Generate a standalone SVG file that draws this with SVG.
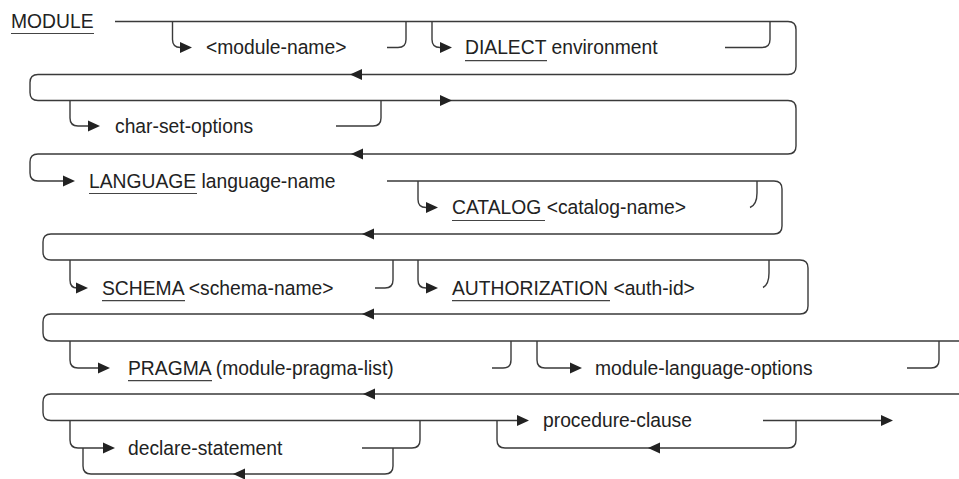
<svg xmlns="http://www.w3.org/2000/svg" xmlns:xlink="http://www.w3.org/1999/xlink" width="959" height="479" viewBox="0 0 959 479">
<style>
.t{font-family:"Liberation Sans",Arial,Helvetica,sans-serif;font-size:19.3px;fill:#222}
.c path{fill:none;stroke:#3a3a3a;stroke-width:1.4}
.u{stroke:#444;stroke-width:1.2}
.a{fill:#222}
</style>
<defs>
<path id="aR" d="M0,0 L-12,-5.5 L-12,5.5 Z"/>
<path id="aL" d="M0,0 L12,-5.5 L12,5.5 Z"/>
</defs>
<rect width="959" height="479" fill="#fff"/>
<g id="connectors" class="c">
<path d="M115,21.5 H788 Q796,21.5 796,29.5 V66.5 Q796,74.5 788,74.5 H38 Q30,74.5 30,82.5 V92.5 Q30,100.5 38,100.5 H788 Q796,100.5 796,108.5 V146 Q796,154 788,154 H38 Q30,154 30,162 V173 Q30,181 38,181 H64"/>
<path d="M172.5,21.5 V39.5 Q172.5,47.5 180.5,47.5"/>
<path d="M387,47.5 H398 Q406,47.5 406,39.5 V21.5"/>
<path d="M432,21.5 V39.5 Q432,47.5 440,47.5"/>
<path d="M725,47.5 H762 Q770,47.5 770,39.5 V21.5"/>
<path d="M70,100.5 V118 Q70,126 78,126 H89"/>
<path d="M336,126 H373 Q381,126 381,118 V100.5"/>
<path d="M387,181 H774 Q782,181 782,189 V226 Q782,234 774,234 H51 Q43,234 43,242 V252 Q43,260 51,260 H800 Q808,260 808,268 V306 Q808,314 800,314 H51 Q43,314 43,322 V333 Q43,341 51,341 H959"/>
<path d="M418,181 V199.5 Q418,207.5 426,207.5"/>
<path d="M750,207.5 C755,205.5 757,200 757,193 V181"/>
<path d="M70,260 V280 Q70,288 77,288"/>
<path d="M375,288 H385 Q393,288 393,280 V260"/>
<path d="M418,260 V280 Q418,288 426,288"/>
<path d="M763,287.5 C767,285.5 769,280 769,273 V260"/>
<path d="M70,341 V360 Q70,368 78,368 H99"/>
<path d="M492,368 H503 Q511,368 511,360 V341"/>
<path d="M537,341 V360 Q537,368 545,368 H571"/>
<path d="M907,368 H931 Q939,368 939,360 V341"/>
<path d="M959,394 H51 Q43,394 43,402 V412.5 Q43,420.5 51,420.5 H518"/>
<path d="M70,420.5 V440 Q70,448 78,448 H104"/>
<path d="M362,448 H412 Q420,448 420,440 V420.5"/>
<path d="M83,448 V466 Q83,474 91,474 H385 Q393,474 393,466 V448"/>
<path d="M497,420.5 V440 Q497,448 505,448 H788 Q796,448 796,440 V420.5"/>
<path d="M763,420.5 H882"/>
<g class="a">
<use xlink:href="#aR" x="192" y="47.5"/>
<use xlink:href="#aR" x="452" y="47.5"/>
<use xlink:href="#aL" x="350" y="74.5"/>
<use xlink:href="#aR" x="452" y="100.5"/>
<use xlink:href="#aR" x="100" y="126"/>
<use xlink:href="#aL" x="351" y="154"/>
<use xlink:href="#aR" x="75" y="181"/>
<use xlink:href="#aR" x="438" y="207.5"/>
<use xlink:href="#aL" x="362" y="234"/>
<use xlink:href="#aR" x="88" y="288"/>
<use xlink:href="#aR" x="438" y="288"/>
<use xlink:href="#aL" x="362" y="314"/>
<use xlink:href="#aR" x="110" y="368"/>
<use xlink:href="#aR" x="582" y="368"/>
<use xlink:href="#aL" x="363" y="394"/>
<use xlink:href="#aR" x="529" y="420.5"/>
<use xlink:href="#aR" x="115" y="448"/>
<use xlink:href="#aL" x="233" y="474"/>
<use xlink:href="#aL" x="648" y="448"/>
<use xlink:href="#aR" x="893" y="420.5"/>
</g>
</g>
<g id="module">
<text class="t" x="11" y="27.5">MODULE</text>
<line class="u" x1="11" y1="33.5" x2="94" y2="33.5"/>
</g>
<g id="module-name"><text class="t" x="206" y="54">&lt;module-name&gt;</text></g>
<g id="dialect">
<text class="t" x="465" y="54">DIALECT environment</text>
<line class="u" x1="465" y1="60.7" x2="547" y2="60.7"/>
</g>
<g id="char-set-options"><text class="t" x="115" y="133">char-set-options</text></g>
<g id="language">
<text class="t" x="89" y="187.5">LANGUAGE language-name</text>
<line class="u" x1="89" y1="193.5" x2="197" y2="193.5"/>
</g>
<g id="catalog">
<text class="t" x="452" y="214">CATALOG &lt;catalog-name&gt;</text>
<line class="u" x1="452" y1="220.5" x2="545" y2="220.5"/>
</g>
<g id="schema">
<text class="t" x="102" y="294.5">SCHEMA &lt;schema-name&gt;</text>
<line class="u" x1="102" y1="300.7" x2="185" y2="300.7"/>
</g>
<g id="authorization">
<text class="t" x="452" y="294.5">AUTHORIZATION &lt;auth-id&gt;</text>
<line class="u" x1="452" y1="300.7" x2="610" y2="300.7"/>
</g>
<g id="pragma">
<text class="t" x="128" y="374.5">PRAGMA (module-pragma-list)</text>
<line class="u" x1="128" y1="380.7" x2="212" y2="380.7"/>
</g>
<g id="module-language-options"><text class="t" x="595" y="374.5">module-language-options</text></g>
<g id="declare-statement"><text class="t" x="128" y="454.5">declare-statement</text></g>
<g id="procedure-clause"><text class="t" x="543" y="427">procedure-clause</text></g>
</svg>
